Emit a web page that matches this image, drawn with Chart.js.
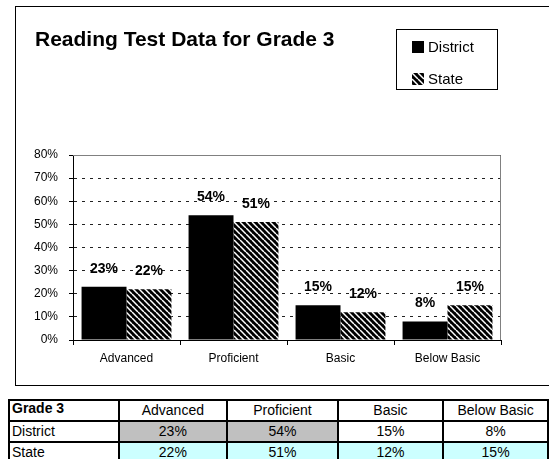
<!DOCTYPE html>
<html>
<head>
<meta charset="utf-8">
<script src="https://cdn.jsdelivr.net/npm/chart.js@4/dist/chart.umd.min.js"></script>
<style>
  body { margin: 0; background: #fff; font-family: "Liberation Sans", Arial, sans-serif; }
  #wrap { position: relative; width: 549px; height: 459px; overflow: hidden; }
  #frame { position: absolute; left: 15px; top: 6px; width: 560px; height: 380px; border: 1px solid #000; box-sizing: border-box; }
  #chart { position: absolute; left: 0; top: 0; }
  #title { position: absolute; left: 35px; top: 27px; font-size: 21px; font-weight: bold; white-space: nowrap; }
  #legend { position: absolute; left: 396px; top: 29px; width: 102px; height: 61px; border: 1px solid #000; box-sizing: border-box; font-size: 15px; }
  #legend div { position: absolute; left: 15px; white-space: nowrap; line-height: 17px; }
  #legend canvas { vertical-align: -1px; margin-right: 4px; }
  #tbl { position: absolute; left: 8px; top: 399px; border-collapse: collapse; font-size: 14px; table-layout: fixed; }
  #tbl td { border: 2px solid #000; padding: 0 2px; height: 19px; line-height: 17px; text-align: center; white-space: nowrap; overflow: hidden; }
  #tbl td.lab { text-align: left; }
</style>
</head>
<body>
<div id="wrap">
  <div id="frame"></div>
  <canvas id="chart" width="549" height="390"></canvas>
  <div id="title">Reading Test Data for Grade 3</div>
  <div id="legend"></div>
  <table id="tbl"></table>
</div>
<script>
const categories = ["Advanced", "Proficient", "Basic", "Below Basic"];
const districtValues = [23, 54, 15, 8];
const stateValues = [22, 51, 12, 15];
const seriesNames = ["District", "State"];
const tableTitle = "Grade 3";
const yMax = 80;
const yStep = 10;

// wide downward diagonal hatch used for State
function makeHatch(ctx) {
  const c = document.createElement("canvas");
  c.width = 6; c.height = 6;
  const g = c.getContext("2d");
  g.fillStyle = "#000";
  g.fillRect(0, 0, 6, 6);
  g.strokeStyle = "#fff";
  g.lineWidth = 1.5;
  for (let k = -6; k <= 6; k += 6) {
    g.beginPath();
    g.moveTo(k, 0);
    g.lineTo(k + 6, 6);
    g.stroke();
  }
  return ctx.createPattern(c, "repeat");
}

const ctx = document.getElementById("chart").getContext("2d");
const hatch = makeHatch(ctx);

// labels above bars + grey plot border on top/right
const extras = {
  id: "extras",
  afterDatasetsDraw(chart) {
    const c = chart.ctx;
    const a = chart.chartArea;
    c.save();
    c.strokeStyle = "#808080";
    c.lineWidth = 1;
    c.beginPath();
    c.moveTo(a.left, a.top + 0.5);
    c.lineTo(a.right - 0.5, a.top + 0.5);
    c.lineTo(a.right - 0.5, a.bottom);
    c.stroke();
    c.fillStyle = "#000";
    c.font = "bold 14px 'Liberation Sans', Arial, sans-serif";
    c.textAlign = "center";
    c.textBaseline = "middle";
    chart.data.datasets.forEach((ds, i) => {
      chart.getDatasetMeta(i).data.forEach((bar, j) => {
        c.fillText(ds.data[j] + "%", bar.x, bar.y - 18);
      });
    });
    c.restore();
  }
};

new Chart(ctx, {
  type: "bar",
  data: {
    labels: categories,
    datasets: [
      { label: seriesNames[0], data: districtValues, backgroundColor: "#000", borderWidth: 0 },
      { label: seriesNames[1], data: stateValues, backgroundColor: hatch, borderWidth: 0 }
    ]
  },
  options: {
    responsive: false,
    animation: false,
    events: [],
    layout: { padding: { left: 0, right: 48, top: 155, bottom: 10 } },
    plugins: { legend: { display: false }, title: { display: false }, tooltip: { enabled: false } },
    datasets: { bar: { categoryPercentage: 0.84, barPercentage: 1 } },
    scales: {
      x: {
        offset: true,
        afterFit: (s) => { s.height = 40; },
        grid: { display: true, drawOnChartArea: false, offset: true, tickLength: 5, color: "#000" },
        border: { color: "#000", width: 1 },
        ticks: { color: "#000", padding: 6, font: { family: "'Liberation Sans', Arial, sans-serif", size: 12 } }
      },
      y: {
        min: 0,
        max: yMax,
        afterFit: (s) => { s.width = 73; },
        grid: { color: "#222", lineWidth: 1, tickLength: 4, tickBorderDash: [], tickColor: "#000" },
        border: { color: "#000", width: 1, dash: [3, 5] },
        ticks: {
          stepSize: yStep,
          padding: 11,
          color: "#000",
          font: { family: "'Liberation Sans', Arial, sans-serif", size: 12 },
          callback: (v) => v + "%"
        }
      }
    }
  },
  plugins: [extras]
});

// legend
const legend = document.getElementById("legend");
seriesNames.forEach((name, i) => {
  const row = document.createElement("div");
  row.style.top = (i === 0 ? 8 : 40) + "px";
  const sw = document.createElement("canvas");
  sw.width = 12; sw.height = 12;
  const sctx = sw.getContext("2d");
  sctx.fillStyle = i === 0 ? "#000" : makeHatch(sctx);
  sctx.fillRect(0, 0, 12, 12);
  row.appendChild(sw);
  row.appendChild(document.createTextNode(name));
  legend.appendChild(row);
});

// data table under the chart
const colWidths = [110, 109, 111, 106, 105];
const districtFills = ["#c0c0c0", "#c0c0c0", "#fff", "#fff"];
const stateFill = "#ccffff";
const tbl = document.getElementById("tbl");
const cg = document.createElement("colgroup");
colWidths.forEach((w) => { const col = document.createElement("col"); col.style.width = w + "px"; cg.appendChild(col); });
tbl.appendChild(cg);
function addRow(label, cells, fills, bold) {
  const tr = document.createElement("tr");
  const th = document.createElement("td");
  th.className = "lab";
  th.textContent = label;
  if (bold) { th.style.fontWeight = "bold"; th.style.verticalAlign = "top"; th.style.lineHeight = "15px"; }
  tr.appendChild(th);
  cells.forEach((v, j) => {
    const td = document.createElement("td");
    td.textContent = v;
    if (fills) td.style.background = fills[j];
    tr.appendChild(td);
  });
  tbl.appendChild(tr);
}
addRow(tableTitle, categories, null, true);
addRow(seriesNames[0], districtValues.map((v) => v + "%"), districtFills, false);
addRow(seriesNames[1], stateValues.map((v) => v + "%"), categories.map(() => stateFill), false);
</script>
</body>
</html>
